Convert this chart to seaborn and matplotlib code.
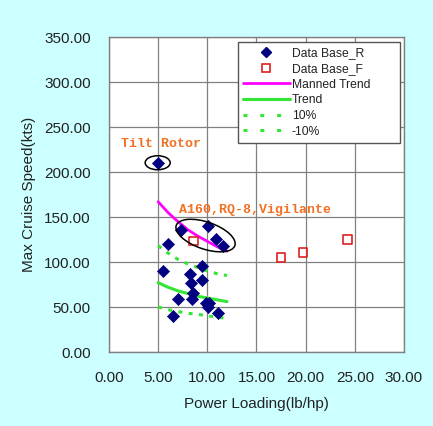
import matplotlib
matplotlib.use('Agg')
import matplotlib.pyplot as plt
import matplotlib.transforms as mtransforms
from matplotlib.patches import Ellipse
from matplotlib.lines import Line2D
import seaborn as sns
import pandas as pd

# Data Base_R (diamonds)
r_x = [4.95, 7.32, 10.04, 10.85, 11.63, 5.97, 5.49, 9.49, 8.24, 9.46,
       8.34, 8.54, 7.05, 8.44, 9.83, 10.17, 10.04, 11.05, 6.54]
r_y = [210.3, 135.6, 140.0, 125.6, 117.8, 120.0, 90.0, 95.5, 87.0, 80.4,
       76.7, 65.5, 58.5, 58.9, 54.8, 54.0, 50.4, 43.3, 40.0]

# Data Base_F (open squares)
f_x = [8.58, 17.46, 19.76, 24.24]
f_y = [123.0, 105.0, 110.5, 125.0]

# trend curves
trend_x = [5, 6, 7, 8, 9, 10, 11, 12]
manned_y = [167, 155, 145, 136, 129, 123, 117, 112]
trend_y = [77, 72, 68, 65, 62, 60, 58, 56]
plus10_y = [118, 110, 103, 98, 94, 90, 87, 85]
minus10_y = [50, 47, 45, 43, 42, 40, 39, 37]

x_ticks = [0, 5, 10, 15, 20, 25, 30]
y_ticks = [0, 50, 100, 150, 200, 250, 300, 350]

sns.set_style('white')
plt.rcParams['font.family'] = ['Liberation Sans', 'DejaVu Sans']

bg = '#ccffff'
grid_c = '#808080'
green = '#33e633'
orange = '#f27022'
dots = (0, (1.3, 2.1))

fig = plt.figure(figsize=(4.33, 4.26), dpi=100, facecolor=bg)
ax = fig.add_axes([0.2517, 0.1737, 0.6813, 0.7394])
ax.set_facecolor('white')

df_r = pd.DataFrame({'x': r_x, 'y': r_y})
df_f = pd.DataFrame({'x': f_x, 'y': f_y})
df_t = pd.DataFrame({'x': trend_x, 'manned': manned_y, 'trend': trend_y,
                     'plus': plus10_y, 'minus': minus10_y})

sns.lineplot(data=df_t, x='x', y='manned', ax=ax, color='#ff00ff', lw=2.0, zorder=3)
sns.lineplot(data=df_t, x='x', y='trend', ax=ax, color=green, lw=2.2, zorder=3)
sns.lineplot(data=df_t, x='x', y='plus', ax=ax, color=green, lw=2.2,
             linestyle=dots, zorder=3)
sns.lineplot(data=df_t, x='x', y='minus', ax=ax, color=green, lw=2.2,
             linestyle=dots, zorder=3)
sns.scatterplot(data=df_r, x='x', y='y', ax=ax, marker='D', s=38,
                color='#000080', edgecolor='#000080', linewidth=0.5, zorder=4)
sns.scatterplot(data=df_f, x='x', y='y', ax=ax, marker='s', s=36,
                facecolor='none', edgecolor='#dd2020', linewidth=1.2, zorder=4)

ax.set_xlim(0, 30)
ax.set_ylim(0, 350)
ax.set_xticks(x_ticks)
ax.set_yticks(y_ticks)
ax.set_xticklabels([f'{v:.2f}' for v in x_ticks])
ax.set_yticklabels([f'{v:.2f}' for v in y_ticks])
ax.tick_params(length=0, labelsize=11, labelcolor='#222222')
ax.tick_params(axis='x', pad=14)
ax.tick_params(axis='y', pad=13)
ax.grid(True, color=grid_c, lw=0.9)
for s in ax.spines.values():
    s.set_color(grid_c)
    s.set_linewidth(1.0)
ax.set_xlabel('Power Loading(lb/hp)', fontsize=11, color='#222222', labelpad=8)
ax.set_ylabel('Max Cruise Speed(kts)', fontsize=11, color='#222222', labelpad=6)

# circled groups
for cx, cy, w, h, ang in [(4.95, 210.3, 25, 14, 0), (9.82, 129.4, 62, 27, -19)]:
    tr = fig.dpi_scale_trans + mtransforms.ScaledTranslation(cx, cy, ax.transData)
    ax.add_patch(Ellipse((0, 0), w / 100, h / 100, angle=ang, fill=False,
                         edgecolor='black', lw=1.1, transform=tr, zorder=5))

ax.text(1.2, 231, 'Tilt Rotor', family='Liberation Mono', fontweight='bold',
        fontsize=9.5, color=orange, va='center', ha='left')
ax.text(7.1, 158, 'A160,RQ-8,Vigilante', family='Liberation Mono', fontweight='bold',
        fontsize=9.5, color=orange, va='center', ha='left')

handles = [
    Line2D([], [], ls='none', marker='D', ms=5.5, color='#000080'),
    Line2D([], [], ls='none', marker='s', ms=6, mfc='none', mec='#dd2020', mew=1.2),
    Line2D([], [], color='#ff00ff', lw=2.0),
    Line2D([], [], color=green, lw=2.2),
    Line2D([], [], color=green, lw=2.2, ls=(0, (1.3, 4.2))),
    Line2D([], [], color=green, lw=2.2, ls=(0, (1.3, 4.2))),
]
labels = ['Data Base_R', 'Data Base_F', 'Manned Trend', 'Trend', '10%', '-10%']
leg = ax.legend(handles, labels, loc='upper left', bbox_to_anchor=(0.436, 0.983, 0.55, 0.0),
                mode='expand', borderaxespad=0, fontsize=8.7, frameon=True, fancybox=False,
                framealpha=1, edgecolor='#555555', handlelength=3.9, handletextpad=0.15,
                labelspacing=0.3, borderpad=0.42)
leg.get_frame().set_linewidth(1.0)
for t in leg.get_texts():
    t.set_color('#222222')

fig.savefig('out.png', dpi=100, facecolor=bg)
